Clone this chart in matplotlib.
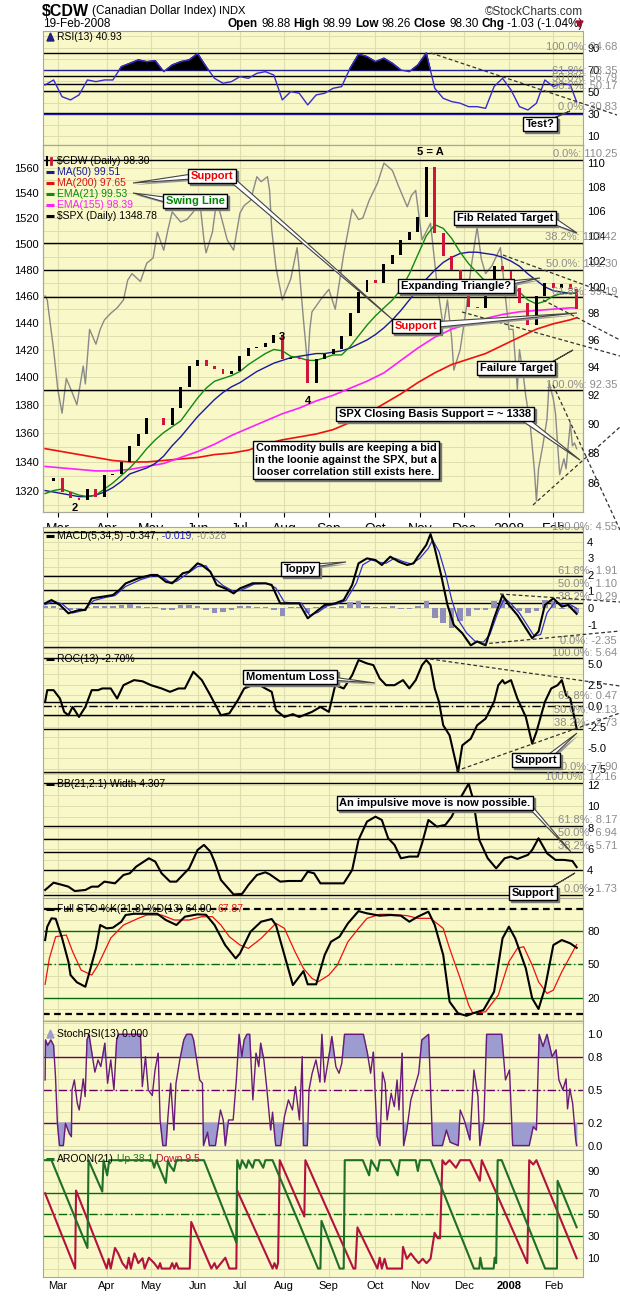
import numpy as np
import matplotlib
matplotlib.use('Agg')
import matplotlib.pyplot as plt
from matplotlib.patches import Polygon
from matplotlib.ticker import NullLocator
from matplotlib.transforms import blended_transform_factory

plt.rcParams['font.family'] = ['Liberation Sans', 'DejaVu Sans']

# ---------------- data (x = trading day, 0 = 20-Feb-2007, 251 = 19-Feb-2008) ----------------
month_idx = [6, 29, 50, 72, 92, 113, 134, 156, 177, 198, 219, 240]
month_lbl = ['Mar', 'Apr', 'May', 'Jun', 'Jul', 'Aug', 'Sep', 'Oct', 'Nov', 'Dec', '2008', 'Feb']

week_x = np.r_[np.arange(0, 249, 4), 251]
slow_x = np.r_[np.arange(0, 249, 8), 251]

cdw_close = np.array([86.1, 86.3, 85.4, 85.0, 84.9, 85.6, 85.1, 86.5, 86.6, 87.4, 88.5, 89.3, 90.4, 90.4,
                      89.9, 91.1, 92.6, 94.1, 94.5, 94.1, 93.9, 93.5, 93.7, 94.8, 95.4, 95.5, 95.8, 96.4,
                      94.6, 94.7, 94.6, 92.9, 94.6, 95.0, 95.3, 96.3, 98.0, 99.6, 100.5, 100.3, 101.8,
                      102.5, 103.7, 104.3, 105.5, 109.7, 104.2, 102.4, 101.3, 100.2, 98.5, 98.4, 99.3,
                      101.6, 101.2, 99.9, 98.8, 97.1, 99.3, 100.3, 99.9, 100.2, 99.8, 98.3])
ma50 = np.array([85.5, 85.4, 85.3, 85.2, 85.1, 85.1, 85.2, 85.4, 85.7, 86.1, 86.6, 86.8, 87.0, 87.3,
                 87.8, 88.5, 89.1, 89.8, 90.5, 91.1, 91.7, 92.2, 92.6, 92.9, 93.3, 93.7, 94.0, 94.3,
                 94.5, 94.7, 94.8, 94.9, 95.0, 95.0, 95.1, 95.2, 95.4, 95.7, 96.0, 96.4, 96.9, 97.5,
                 98.2, 99.0, 99.8, 100.6, 101.3, 101.9, 102.3, 102.6, 102.7, 102.7, 102.6, 102.5,
                 102.3, 102.0, 101.6, 101.0, 100.5, 100.0, 99.7, 99.6, 99.5, 99.51])
ema21 = np.array([85.3, 85.5, 85.6, 85.4, 85.2, 85.1, 85.2, 85.6, 86.0, 86.5, 87.0, 87.6, 88.3, 88.9,
                  89.4, 89.8, 90.2, 91.0, 91.8, 92.5, 93.0, 93.2, 93.4, 93.7, 94.2, 94.6, 95.0, 95.3,
                  95.2, 94.8, 94.7, 94.5, 94.5, 94.7, 94.9, 94.9, 95.5, 96.3, 97.1, 97.8, 98.4, 99.0,
                  99.8, 101.0, 102.5, 104.0, 104.9, 104.6, 103.8, 102.7, 101.8, 101.1, 100.4, 100.0,
                  100.1, 100.2, 99.6, 99.0, 98.7, 98.9, 99.3, 99.5, 99.5, 99.53])
ma200 = np.array([88.3, 88.1, 87.9, 87.7, 87.5, 87.4, 87.4, 87.5, 87.6, 87.7, 87.9, 88.0, 88.2, 88.6,
                  88.9, 89.1, 89.3, 89.6, 90.1, 90.7, 91.4, 92.1, 92.9, 93.6, 94.2, 94.6, 95.0, 95.6,
                  96.2, 96.8, 97.2, 97.5, 97.65])
ema155 = np.array([87.1, 87.0, 86.9, 86.8, 86.8, 86.9, 87.1, 87.3, 87.7, 88.1, 88.6, 89.2, 89.7, 90.2,
                   90.7, 91.1, 91.6, 92.0, 92.5, 93.0, 93.6, 94.5, 95.4, 96.2, 96.8, 97.2, 97.6, 97.9,
                   98.1, 98.2, 98.3, 98.4, 98.39])

spx_x = [0, 1, 4, 6, 8, 10, 13, 15, 18, 19, 21, 24, 26, 28, 31, 34, 37, 39, 41, 45, 48, 51, 53, 56, 58,
         60, 64, 67, 70, 73, 75, 76, 79, 81, 83, 86, 89, 92, 94, 97, 100, 102, 105, 106, 107, 109, 112,
         114, 116, 119, 120, 122, 124, 125, 126, 130, 134, 137, 141, 145, 148, 150, 153, 157, 160, 164,
         167, 171, 173, 175, 178, 182, 185, 188, 190, 192, 193, 196, 199, 201, 204, 206, 208, 211, 215,
         217, 219, 221, 223, 224, 226, 227, 229, 231, 232, 233, 235, 237, 238, 240, 241, 243, 245, 246,
         248, 249, 250, 251]
spx_v = [1460, 1457, 1420, 1391, 1374, 1399, 1388, 1380, 1408, 1395, 1435, 1424, 1435, 1442, 1447, 1451,
         1457, 1472, 1477, 1471, 1485, 1489, 1509, 1495, 1511, 1525, 1517, 1519, 1525, 1534, 1503, 1493,
         1509, 1534, 1522, 1503, 1495, 1524, 1530, 1534, 1553, 1549, 1553, 1542, 1511, 1482, 1457, 1465,
         1473, 1497, 1480, 1442, 1408, 1435, 1448, 1457, 1465, 1450, 1492, 1527, 1519, 1520, 1534, 1548,
         1564, 1558, 1545, 1529, 1538, 1542, 1503, 1516, 1470, 1437, 1457, 1428, 1405, 1420, 1452, 1480,
         1513, 1488, 1477, 1483, 1497, 1465, 1435, 1435, 1391, 1420, 1399, 1386, 1367, 1335, 1313, 1335,
         1351, 1370, 1396, 1384, 1374, 1331, 1342, 1335, 1367, 1351, 1353, 1349]

rsi13 = np.array([56.2, 60.7, 45.6, 42.7, 47.2, 60.7, 59.2, 60.7, 60.7, 72.7, 75.7, 78.8, 77.2, 78.1,
                  68.2, 74.2, 77.2, 78.8, 84.5, 72.7, 62.2, 57.7, 59.2, 63.7, 62.2, 66.7, 68.2, 65.2,
                  42.7, 50.2, 48.7, 38.2, 47.2, 48.7, 53.2, 54.7, 71.2, 84.0, 81.8, 77.2, 80.3, 75.7,
                  69.7, 68.2, 74.2, 85.0, 53.2, 44.1, 41.2, 39.7, 36.6, 36.6, 35.1, 54.7, 62.2, 51.7,
                  36.6, 33.6, 39.7, 60.7, 54.7, 57.7, 56.2, 40.93])

macd_x = [0, 3, 7, 11, 16, 19, 22, 27, 32, 35, 38, 44, 50, 53, 57, 60, 65, 68, 72, 74, 78, 81, 85, 89,
          92, 98, 104, 107, 111, 115, 120, 124, 128, 132, 137, 141, 145, 148, 152, 156, 159, 163, 167,
          171, 174, 176, 180, 182, 184, 187, 190, 193, 197, 201, 204, 208, 212, 216, 219, 223, 227, 230,
          233, 236, 240, 244, 247, 251]
macd_v = [0.28, 0.48, 0.18, -0.32, -0.12, -0.12, 0.58, 0.68, 0.78, 1.08, 1.48, 1.79, 1.99, 1.99, 1.58,
          1.49, 2.09, 2.19, 2.69, 2.59, 2.19, 1.39, 1.18, 0.88, 1.18, 1.49, 1.49, 1.39, 0.28, 0.28, 0.28,
          -0.62, -0.22, 0.18, 0.28, 0.48, 1.39, 2.69, 2.99, 2.89, 2.59, 3.09, 2.79, 2.59, 2.69, 3.09,
          3.80, 4.45, 3.60, 1.99, 0.18, -1.02, -1.52, -2.25, -2.02, -2.25, -0.62, 0.78, 0.18, -0.42,
          -1.22, -1.82, -1.42, 0.18, 0.58, 0.08, 0.18, -0.35]
sig_x = [0, 4, 8, 13, 18, 23, 28, 33, 38, 45, 51, 55, 59, 62, 67, 72, 76, 80, 84, 89, 93, 99, 105, 109,
         113, 117, 121, 125, 129, 133, 138, 142, 147, 150, 154, 158, 161, 165, 169, 173, 177, 181, 183,
         186, 189, 192, 195, 199, 203, 207, 210, 214, 217, 220, 224, 228, 231, 234, 237, 241, 245, 248, 251]
sig_v = [0.2, 0.4, 0.25, -0.3, -0.15, 0.45, 0.62, 0.75, 1.3, 1.7, 1.95, 1.9, 1.55, 1.6, 2.05, 2.5, 2.55,
         1.8, 1.35, 1.0, 1.1, 1.45, 1.48, 1.2, 0.35, 0.3, 0.3, -0.45, -0.25, 0.12, 0.25, 0.45, 1.5, 2.6,
         2.9, 2.75, 2.7, 3.0, 2.8, 2.65, 3.0, 3.6, 4.1, 3.4, 2.1, 0.5, -0.7, -1.5, -2.0, -2.05, -1.6,
         -0.2, 0.6, 0.25, -0.3, -1.1, -1.7, -1.6, -0.3, 0.4, 0.15, 0.2, -0.02]
macd_hist = [0.1, 0.15, -0.1, -0.1, -0.05, 0.05, 0.15, 0.1, 0.1, 0.2, 0.25, 0.15, 0.05, 0.05, -0.15,
             -0.1, 0.2, 0.2, 0.15, -0.1, -0.3, -0.25, -0.15, 0.1, 0.1, 0.05, 0.05, -0.1, -0.5, 0.05,
             0.05, -0.3, 0.05, 0.1, 0.05, 0.1, 0.35, 0.45, 0.1, 0.05, 0.05, 0.1, -0.05, -0.05, 0.15,
             0.4, -0.6, -0.9, -1.2, -0.8, -0.5, -0.1, -0.1, 0.4, 0.5, 0.1, -0.2, -0.3, -0.2, 0.5, 0.4,
             -0.05, 0.1, -0.33]

roc_x = [0, 1, 4, 7, 9, 11, 13, 16, 19, 22, 25, 27, 31, 34, 37, 42, 46, 50, 55, 59, 63, 66, 70, 74, 78,
         83, 87, 91, 94, 100, 104, 107, 109, 113, 117, 120, 126, 130, 134, 137, 141, 145, 148, 152, 155,
         158, 161, 165, 169, 172, 175, 178, 180, 182, 184, 186, 188, 191, 195, 197, 201, 204, 208, 212,
         214, 216, 217, 220, 223, 227, 230, 232, 236, 239, 242, 244, 246, 248, 251]
roc_v = [0.45, 1.85, 1.85, 0.86, -0.73, -1.13, -0.14, -1.33, -0.14, 1.85, 1.85, 2.05, 2.05, 0.86, 2.44,
         3.04, 2.9, 2.44, 2.05, 1.65, 2.05, 2.05, 4.03, 3.04, 1.25, -1.13, -0.9, 0.66, 2.05, 2.64, 2.05,
         1.65, -0.53, -1.33, -1.0, -1.33, -0.73, -0.14, -0.73, 2.44, 2.05, 3.63, 5.42, 5.02, 4.82, 3.24,
         2.44, 2.44, 3.04, 2.05, 3.04, 4.82, 5.42, 4.82, 2.05, 0.46, -2.32, -3.51, -7.9, -4.70, -3.91,
         -2.32, -1.53, 0.46, 2.44, 3.04, 2.64, 3.04, 0.86, -1.33, -4.50, -3.12, 0.46, 2.05, 2.44, 3.04,
         1.25, 0.86, -2.70]

bbw_x = [0, 4, 7, 11, 14, 19, 22, 25, 28, 33, 37, 40, 43, 49, 52, 55, 59, 62, 65, 68, 72, 75, 78, 80,
         83, 89, 93, 96, 100, 104, 106, 111, 115, 121, 124, 127, 130, 135, 141, 145, 148, 152, 156, 159,
         162, 165, 168, 172, 176, 178, 181, 185, 189, 192, 196, 200, 202, 205, 209, 213, 217, 220, 223,
         228, 230, 233, 237, 241, 245, 249, 251]
bbw_v = [2.17, 2.85, 2.70, 2.48, 2.07, 2.17, 2.48, 2.48, 2.95, 2.79, 3.57, 3.73, 4.35, 5.13, 4.82, 3.73,
         2.95, 2.95, 3.57, 4.19, 5.91, 6.38, 5.76, 4.82, 3.11, 1.75, 1.80, 2.64, 3.57, 3.82, 3.64, 2.95,
         3.01, 3.01, 3.88, 3.73, 2.79, 2.79, 2.79, 4.04, 6.85, 8.56, 9.02, 8.71, 7.0, 6.38, 5.13, 5.29,
         5.29, 6.53, 8.71, 8.09, 8.25, 9.02, 10.73, 12.1, 10.73, 6.85, 5.13, 4.19, 5.13, 5.29, 5.07, 5.45,
         5.91, 7.0, 5.60, 4.98, 4.98, 4.88, 4.31]

stok_x = [0, 1, 3, 5, 8, 11, 12, 15, 19, 21, 24, 26, 29, 32, 36, 38, 42, 48, 53, 57, 62, 66, 72, 76, 80,
          85, 90, 92, 97, 102, 107, 109, 113, 117, 122, 124, 128, 132, 135, 139, 143, 148, 152, 158, 163,
          168, 172, 176, 181, 184, 188, 191, 195, 199, 202, 207, 212, 216, 219, 222, 227, 230, 233, 236,
          240, 244, 248, 251]
stok_v = [71.9, 83.9, 91.4, 91.0, 73.7, 52.4, 40.4, 33.9, 29.9, 43.4, 64.4, 85.4, 82.4, 83.0, 88.4, 94.4,
          95.5, 95.5, 95.5, 89.9, 85.4, 92.9, 95.0, 94.6, 85.4, 67.4, 55.4, 59.9, 79.4, 88.4, 90.8, 85.4,
          58.4, 31.4, 44.0, 32.1, 32.1, 58.4, 70.4, 74.9, 86.9, 97.9, 95.9, 93.8, 94.4, 93.8, 88.4, 92.9,
          97.4, 85.4, 58.4, 16.4, 6.0, 3.8, 6.0, 9.0, 25.4, 73.4, 83.9, 73.4, 46.4, 19.5, 9.9, 28.4, 67.4,
          71.9, 68.9, 64.9]
stod_x = [0, 2, 5, 10, 13, 17, 22, 25, 31, 37, 44, 48, 55, 61, 68, 74, 79, 83, 87, 92, 96, 102, 109, 113,
          118, 122, 126, 129, 134, 138, 143, 148, 152, 158, 163, 171, 176, 182, 188, 191, 196, 200, 202,
          208, 214, 219, 223, 226, 230, 233, 237, 240, 244, 251]
stod_v = [32.1, 55.4, 74.9, 76.4, 61.4, 44.9, 40.4, 49.4, 73.7, 85.4, 91.4, 94.4, 94.4, 89.9, 89.9, 92.9,
          92.9, 85.4, 74.9, 67.4, 64.4, 73.4, 86.9, 82.4, 61.4, 46.4, 37.4, 34.4, 40.4, 49.4, 70.4, 82.4,
          91.4, 95.0, 95.0, 93.8, 91.4, 91.4, 82.4, 64.4, 37.4, 13.4, 6.0, 7.4, 22.4, 52.4, 64.4, 65.9,
          49.4, 34.4, 23.9, 26.9, 43.4, 67.87]

srsi_x = [0, 0.2, 1.2, 2.7, 4.0, 4.9, 5.8, 6.8, 8.6, 9.6, 11.4, 12.4, 12.7, 13.8, 15.2, 16.1, 18.0, 18.9,
          19.8, 20.7, 22.1, 23.5, 25.0, 26.3, 28.2, 29.5, 31.0, 32.5, 33.8, 34.7, 45.0, 45.9, 47.4, 48.7,
          50.6, 51.9, 53.4, 54.3, 55.6, 57.1, 58.0, 59.3, 60.8, 61.8, 63.6, 65.5, 66.8, 69.2, 70.1, 73.0,
          74.3, 74.8, 76.7, 77.6, 80.4, 82.8, 84.1, 85.1, 86.6, 88.8, 90.3, 91.6, 92.9, 94.0, 95.3, 96.6,
          98.1, 99.6, 100.9, 101.8, 103.3, 104.6, 106.5, 107.4, 108.9, 111.2, 113.0, 114.9, 116.8, 118.2,
          120.1, 121.4, 122.0, 123.8, 124.6, 126.1, 127.9, 129.8, 130.7, 132.0, 134.5, 135.4, 137.3,
          138.8, 140.1, 141.4, 150.3, 152.2, 153.7, 155.0, 156.8, 158.1, 159.3, 160.6, 161.5, 163.4,
          164.9, 166.2, 167.1, 168.6, 169.3, 170.8, 172.7, 174.6, 176.4, 177.9, 181.1, 183.0, 187.6,
          189.5, 191.3, 195.1, 196.0, 197.9, 200.6, 202.5, 204.4, 205.3, 207.2, 208.5, 215.6, 217.4,
          219.3, 220.8, 228.6, 230.5, 232.0, 233.3, 235.1, 237.0, 239.4, 241.3, 242.6, 244.5, 246.0,
          246.7, 247.8, 249.1, 250.6, 251]
srsi_v = [0.59, 0.95, 0.90, 0.95, 0.90, 0.62, 0.20, 0.0, 0.0, 0.20, 0.11, 0.08, 0.50, 0.59, 0.38, 0.32,
          0.60, 0.44, 0.95, 1.0, 0.83, 0.66, 0.77, 0.71, 0.92, 0.56, 0.77, 0.50, 0.95, 1.0, 1.0, 0.53,
          0.80, 0.50, 0.45, 0.68, 0.83, 0.23, 0.0, 0.0, 0.26, 0.56, 0.14, 0.56, 0.77, 0.95, 1.0, 1.0,
          0.95, 0.59, 0.56, 0.0, 0.12, 0.0, 0.0, 0.32, 0.23, 0.0, 0.23, 0.23, 0.59, 1.0, 0.80, 0.95, 1.0,
          1.0, 0.41, 0.83, 0.71, 0.92, 0.77, 0.53, 0.14, 0.30, 0.0, 0.0, 0.26, 0.41, 0.32, 0.53, 0.23,
          0.80, 0.0, 0.0, 0.50, 0.65, 0.77, 0.57, 1.0, 0.57, 0.86, 0.98, 0.71, 0.65, 0.74, 1.0, 1.0, 0.83,
          0.65, 0.84, 0.08, 0.0, 0.66, 0.56, 0.23, 0.47, 0.35, 0.59, 0.32, 0.83, 0.0, 0.14, 0.41, 0.53,
          0.65, 0.95, 1.0, 0.0, 0.0, 0.14, 0.03, 0.0, 0.32, 0.23, 0.05, 0.68, 0.44, 0.0, 0.23, 1.0, 1.0,
          0.59, 0.68, 0.0, 0.0, 0.17, 0.14, 1.0, 0.89, 1.0, 0.80, 0.86, 0.59, 0.50, 0.60, 0.33, 0.51,
          0.38, 0.05, 0.0]

aup_x = [0, 3, 20, 20.5, 27, 27.6, 29.3, 30.3, 50.5, 51.5, 52.5, 57, 58, 59, 60.8, 62, 75, 90.3, 90.7,
         92, 93, 95, 96, 98, 99, 101, 103, 104, 107.4, 128.9, 130, 130.5, 139.1, 141, 141.5, 150, 153,
         154, 157, 158, 163, 166.5, 167.5, 175, 176, 177, 182, 202.5, 205, 205.5, 206.5, 211.8, 212.3,
         213, 213.7, 215.6, 236.1, 241.7, 242, 251]
aup_v = [100, 100, 19, 100, 71, 100, 86, 100, 100, 93, 100, 79, 100, 95, 90, 100, 100, 24, 100, 92, 100,
         93, 100, 93, 100, 100, 93, 100, 100, 0, 0, 44, 0, 0, 100, 100, 86, 100, 90, 100, 100, 86, 100,
         100, 90, 100, 100, 0, 0, 10, 0, 0, 10, 5, 100, 100, 0, 0, 81, 38.1]
adn_x = [0, 14.2, 14.6, 29.1, 30, 31, 33, 34.5, 36.5, 38.5, 39.5, 40.5, 42.2, 44, 46, 47, 49, 51.5, 53.4,
         54.3, 55, 59, 60, 61, 62, 63, 68.3, 69, 78.5, 80, 81, 85.1, 87, 90.3, 90.7, 107.4, 108.3, 109.3,
         110, 110.8, 122.4, 122.9, 145.6, 146.5, 147.5, 156.9, 158, 159, 160.3, 161.5, 168.5, 169, 170.8,
         172.7, 174.6, 176.4, 178.3, 180.1, 182, 183.9, 185.4, 186.5, 187.6, 189, 191, 194, 196, 200.6,
         205.3, 206.2, 227.7, 228.6, 230.5, 232, 251]
adn_v = [69.4, 0, 72, 0, 9, 0, 19, 14, 5, 0, 10, 0, 14, 5, 9.5, 0, 10, 5, 0, 5, 0, 0, 5, 0, 5, 0, 0, 43,
         0, 5, 0, 10, 0, 0, 72, 0, 5, 0, 5, 100, 48, 100, 0, 0, 38, 0, 10, 0, 9, 0, 0, 20, 9, 14, 9, 5,
         9, 5, 9, 33, 28, 28, 100, 96, 100, 93, 100, 100, 81, 100, 5, 100, 96, 100, 9.5]

# ---------------- layout ----------------
W, H = 620, 1297
BG = '#f8f8c8'
GRID = '#dedeb0'
FIB = '#8c8c8c'

fig = plt.figure(figsize=(W / 100, H / 100), dpi=100)
fig.patch.set_facecolor('white')


def panel(top, bottom, ylim, ticks, labels, minor, log=False):
    ax = fig.add_axes([43 / W, 1 - bottom / H, 540 / W, (bottom - top) / H])
    ax.set_facecolor(BG)
    if log:
        ax.set_yscale('log')
    ax.set_xlim(-1, 254)
    ax.set_ylim(*ylim)
    for sp in ax.spines.values():
        sp.set_color('#a8a898')
        sp.set_linewidth(0.8)
    ax.yaxis.tick_right()
    ax.set_yticks(ticks)
    ax.set_yticklabels(labels)
    ax.yaxis.set_minor_locator(NullLocator())
    ax.tick_params(axis='y', length=0, pad=3, labelsize=8)
    ax.set_xticks([])
    for m in month_idx:
        ax.axvline(m, color=GRID, lw=0.8, zorder=0)
    for g in minor:
        ax.axhline(g, color=GRID, lw=0.7, zorder=0)
    return ax


def fibs(ax, levels, texts):
    tr = blended_transform_factory(fig.transFigure, ax.transData)
    for lv, tx in zip(levels, texts):
        ax.axhline(lv, color='black', lw=1, zorder=2)
        ax.annotate(tx, xy=(617 / W, lv), xycoords=tr, xytext=(0, 0.5), textcoords='offset points',
                    ha='right', va='bottom', fontsize=8, color=FIB, annotation_clip=False, zorder=6)


def month_labels(ax):
    ax.set_xticks(month_idx)
    ax.set_xticklabels(month_lbl)
    ax.tick_params(axis='x', length=0, pad=3, labelsize=8)
    for t in ax.get_xticklabels():
        if t.get_text() == '2008':
            t.set_fontweight('bold')


# overlay in pixel coordinates for header, legends and callouts
ov = fig.add_axes([0, 0, 1, 1])
ov.set_xlim(0, W)
ov.set_ylim(H, 0)
ov.axis('off')
ov.set_zorder(20)
renderer = fig.canvas.get_renderer()


def rich(x, y, parts, size=7.5, gap=3):
    for part in parts:
        s, c, w = part[:3]
        fs = part[3] if len(part) > 3 else size
        t = ov.text(x, y, s, color=c, fontsize=fs, fontweight=w, ha='left', va='center', zorder=30)
        x += t.get_window_extent(renderer=renderer).width + gap


def dash_icon(x, y, c):
    ov.plot([x, x + 8], [y, y], color=c, lw=2.2, solid_capstyle='butt', zorder=30)


def callout(cx, cy, text, tails=(), color='black', size=8):
    kw = dict(ha='center', va='center', fontsize=size, fontweight='bold', multialignment='center')
    ov.text(cx + 2, cy + 2, text, color='#7a7a7a', zorder=40,
            bbox=dict(boxstyle='square,pad=0.22', fc='#7a7a7a', ec='#7a7a7a', lw=1), **kw)
    for a, b, tip in tails:
        ov.add_patch(Polygon([(a[0] + 2, a[1] + 2), (b[0] + 2, b[1] + 2), (tip[0] + 2, tip[1] + 2)],
                             closed=True, fc='#9a9a9a', ec='none', zorder=41))
        ov.add_patch(Polygon([a, b, tip], closed=True, fc='white', ec='#444444', lw=0.8, zorder=42))
    ov.text(cx, cy, text, color=color, zorder=43,
            bbox=dict(boxstyle='square,pad=0.22', fc='white', ec='black', lw=1), **kw)


def dashed(p, q):
    ov.plot([p[0], q[0]], [p[1], q[1]], color='#333333', lw=0.9, dashes=(3, 2), zorder=25)


# ---------------- header ----------------
rich(42, 11, [('$CDW', 'black', 'bold', 11.5), ('(Canadian Dollar Index)', 'black', 'normal', 8.5),
              ('INDX', 'black', 'normal', 8)])
ov.text(583, 12, '\u00a9StockCharts.com', fontsize=8.5, va='center', ha='right', color='#333333')
ov.text(43, 24, '19-Feb-2008', fontsize=8.5, va='center')
rich(228, 24, [('Open', 'black', 'bold'), ('98.88', 'black', 'normal'), ('High', 'black', 'bold'),
               ('98.99', 'black', 'normal'), ('Low', 'black', 'bold'), ('98.26', 'black', 'normal'),
               ('Close', 'black', 'bold'), ('98.30', 'black', 'normal'), ('Chg', 'black', 'bold'),
               ('-1.03 (-1.04%)', 'black', 'normal')], size=8.5)
ov.fill([576, 583, 579.5], [21, 21, 27], color='#a01030', zorder=30)

# ---------------- RSI ----------------
ax = panel(31, 145, (2.0, 104.9), [90, 70, 50, 30, 10], ['90', '70', '50', '30', '10'],
           range(0, 101, 10))
fibs(ax, [85.1, 64.0, 57.1, 50.5, 30.9],
     ['100.0%: 94.68', '61.8%: 73.35', '50.0%: 56.79', '38.2%: 50.17', '0.0%: 30.83'])
ax.axhline(70, color='#2020a0', lw=1, zorder=2)
ax.axhline(30, color='#2020a0', lw=1, zorder=2)
ax.fill_between(week_x, rsi13, 70, where=rsi13 > 70, interpolate=True, color='black', zorder=3)
ax.plot(week_x, rsi13, color='#3a2ad0', lw=1, zorder=4)
ov.fill([47, 54, 50.5], [41, 41, 33], color='#202080', zorder=30)
rich(57, 37, [('RSI(13) 40.93', 'black', 'normal')])
dashed((431, 53), (617, 115))
callout(540, 124, 'Test?', [((545, 122), (552, 119), (570, 111))])

# ---------------- price panel ----------------
ax_spx = panel(145, 512, (1305.5, 1578.7), [], [], [], log=True)
ax_spx.yaxis.tick_left()
ax_spx.set_yticks(range(1320, 1561, 20))
ax_spx.set_yticklabels([str(v) for v in range(1320, 1561, 20)])
ax_spx.yaxis.set_minor_locator(NullLocator())
ax_spx.tick_params(axis='y', length=0, pad=3, labelsize=8)
for g in range(1310, 1580, 10):
    ax_spx.axhline(g, color=GRID, lw=0.7, zorder=0)
ax_spx.plot(spx_x, spx_v, color='#8a8a8a', lw=1, zorder=3)

ax_cdw = ax_spx.twinx()
ax_cdw.set_yscale('log')
ax_cdw.set_ylim(84.1, 111.53)
ax_cdw.set_xlim(-1, 254)
ax_cdw.set_yticks(range(86, 111, 2))
ax_cdw.set_yticklabels([str(v) for v in range(86, 111, 2)])
ax_cdw.yaxis.set_minor_locator(NullLocator())
ax_cdw.tick_params(axis='y', length=0, pad=3, labelsize=8)
for sp in ax_cdw.spines.values():
    sp.set_color('#a8a898')
    sp.set_linewidth(0.8)
fibs(ax_cdw, [110.25, 103.42, 101.30, 99.19, 92.35],
     ['0.0%: 110.25', '38.2%: 103.42', '50.0%: 101.30', '61.8%: 99.19', '100.0%: 92.35'])
ax_cdw.plot(slow_x, ma200, color='#f01010', lw=1.2, zorder=4)
ax_cdw.plot(slow_x, ema155, color='#ff20ff', lw=1.2, zorder=4)
ax_cdw.plot(week_x, ma50, color='#1a1a9a', lw=1, zorder=4)
ax_cdw.plot(week_x, ema21, color='#108a10', lw=1, zorder=4)
opens = np.r_[cdw_close[0], cdw_close[:-1]]
body_col = np.where(cdw_close >= opens, 'black', '#d0143c')
ax_cdw.bar(week_x, cdw_close - opens, bottom=opens, width=1.4, color=body_col, zorder=5)
month_labels(ax_cdw)

legend = [('$CDW (Daily) 98.30', 'black', None), ('MA(50) 99.51', '#1a1a9a', '#1a1a9a'),
          ('MA(200) 97.65', '#e01010', '#e01010'), ('EMA(21) 99.53', '#108a10', '#108a10'),
          ('EMA(155) 98.39', '#ff20ff', '#ff20ff'), ('$SPX (Daily) 1348.78', 'black', 'black')]
for k, (txt, col, ic) in enumerate(legend):
    yy = 161 + 11 * k
    if ic is None:
        ov.plot([47, 47], [157, 165], color='black', lw=1.5, zorder=30)
        ov.plot([51, 51], [158, 164], color='#d0143c', lw=2, zorder=30)
    else:
        dash_icon(46, yy, ic)
    rich(57, yy, [(txt, col, 'normal')])

ov.text(430, 152, '5 = A', fontsize=8, fontweight='bold', ha='center', va='center', zorder=30)
ov.text(282, 337, '3', fontsize=8, fontweight='bold', ha='center', va='center', zorder=30)
ov.text(308, 401, '4', fontsize=8, fontweight='bold', ha='center', va='center', zorder=30)
ov.text(75, 508, '2', fontsize=8, fontweight='bold', ha='center', va='center', zorder=30)

dashed((503, 255), (620, 298))
dashed((462, 312), (620, 356))
dashed((543, 300), (620, 340))
dashed((553, 385), (620, 530))
dashed((533, 505), (620, 427))

callout(212, 176, 'Support', [((192, 174), (192, 179), (133, 183)), ((226, 178), (234, 178), (393, 320))],
        color='#ee0000')
callout(195, 201, 'Swing Line', [((172, 198), (172, 204), (133, 193))], color='#008800')
callout(505, 218, 'Fib Related Target', [((545, 221), (552, 216), (577, 233))])
callout(456, 286, 'Expanding Triangle?', [((500, 282), (508, 285), (540, 278))])
callout(416, 326, 'Support', [((430, 322), (430, 328), (577, 313))], color='#ee0000')
callout(516, 368, 'Failure Target', [((545, 366), (552, 362), (573, 350))])
callout(435, 414, 'SPX Closing Basis Support = ~ 1338', [((515, 416), (525, 416), (580, 460))])
callout(346, 460, 'Commodity bulls are keeping a bid\nin the loonie against the SPX, but a\n'
        'looser correlation still exists here.', size=7.8)

# ---------------- MACD ----------------
ax = panel(527, 648, (-2.41, 4.88), [4, 3, 2, 1, 0, -1], ['4', '3', '2', '1', '0', '-1'],
           np.arange(-2, 4.9, 0.5))
fibs(ax, [4.55, 1.91, 1.10, 0.29, -2.35],
     ['100.0%: 4.55', '61.8%: 1.91', '50.0%: 1.10', '38.2%: 0.29', '0.0%: -2.35'])
ax.bar(week_x, macd_hist, width=2.6, color='#8e8eb8', zorder=3)
ax.plot(sig_x, sig_v, color='#3030d0', lw=0.9, zorder=4)
ax.plot(macd_x, macd_v, color='black', lw=1.5, zorder=5)
dash_icon(46, 536, 'black')
rich(57, 536, [('MACD(5,34,5) -0.347', 'black', 'normal'), (', -0.019', '#2020c0', 'normal'),
               (', -0.328', '#909090', 'normal')], gap=0)
dashed((500, 594), (620, 602))
dashed((483, 644), (620, 631))
callout(300, 569, 'Toppy', [((308, 568), (313, 564), (346, 562))])

# ---------------- ROC ----------------
ax = panel(648, 773, (-7.98, 6.85), [5, 2.5, 0, -2.5, -5, -7.5],
           ['5.0', '2.5', '0.0', '-2.5', '-5.0', '-7.5'], np.arange(-7.5, 6.3, 1.25))
fibs(ax, [5.64, 0.47, -1.13, -2.73, -7.90],
     ['100.0%: 5.64', '61.8%: 0.47', '50.0%: -1.13', '38.2%: -2.73', '0.0%: -7.90'])
ax.axhline(0, color='black', lw=1, dashes=(6, 2, 1, 2), zorder=2)
ax.plot(roc_x, roc_v, color='black', lw=1.5, zorder=5)
dash_icon(46, 659, 'black')
rich(57, 659, [('ROC(13) -2.70%', 'black', 'normal')])
dashed((430, 659), (620, 686))
dashed((456, 771), (620, 713))
callout(290, 677, 'Momentum Loss', [((325, 676), (330, 680), (375, 683))])
callout(536, 760, 'Support', [((545, 757), (552, 757), (577, 733))])

# ---------------- BB width ----------------
ax = panel(773, 898, (1.42, 13.1), [12, 10, 8, 6, 4, 2], ['12', '10', '8', '6', '4', '2'],
           range(2, 14))
fibs(ax, [12.16, 8.17, 6.94, 5.71, 1.73],
     ['100.0%: 12.16', '61.8%: 8.17', '50.0%: 6.94', '38.2%: 5.71', '0.0%: 1.73'])
ax.axhline(4, color='black', lw=1, zorder=2)
ax.plot(bbw_x, bbw_v, color='black', lw=1.5, zorder=5)
dash_icon(46, 784, 'black')
rich(57, 784, [('BB(21,2.1) Width 4.307', 'black', 'normal')])
callout(435, 803, 'An impulsive move is now possible.', [((525, 804), (532, 806), (571, 852))])
callout(533, 893, 'Support', [((545, 891), (550, 888), (575, 873))])

# ---------------- Full STO ----------------
ax = panel(898, 1021, (-0.9, 109.7), [80, 50, 20], ['80', '50', '20'], range(0, 110, 10))
ax.axhline(100, color='black', lw=1.6, dashes=(3, 2), zorder=2)
ax.axhline(5, color='black', lw=1.6, dashes=(3, 2), zorder=2)
ax.axhline(80, color='#0a6a0a', lw=1, zorder=2)
ax.axhline(20, color='#0a6a0a', lw=1, zorder=2)
ax.axhline(50, color='#0a6a0a', lw=1, dashes=(6, 2, 1, 2), zorder=2)
ax.plot(stod_x, stod_v, color='#ee1111', lw=0.9, zorder=4)
ax.plot(stok_x, stok_v, color='black', lw=1.5, zorder=5)
dash_icon(46, 909, 'black')
rich(57, 909, [('Full STO %K(21,8) %D(13) 64.90,', 'black', 'normal'), ('67.87', '#ee1111', 'normal')])

# ---------------- StochRSI ----------------
srsi = np.array(srsi_v)
ax = panel(1021, 1150, (-0.04, 1.12), [1.0, 0.8, 0.5, 0.2, 0.0], ['1.0', '0.8', '0.5', '0.2', '0.0'],
           np.arange(0, 1.11, 0.1))
ax.fill_between(srsi_x, srsi, 0.8, where=srsi > 0.8, interpolate=True, color='#9c9cd0', zorder=3)
ax.fill_between(srsi_x, srsi, 0.2, where=srsi < 0.2, interpolate=True, color='#9c9cd0', zorder=3)
ax.axhline(0.8, color='#660066', lw=1, zorder=2)
ax.axhline(0.2, color='#660066', lw=1, zorder=2)
ax.axhline(0.5, color='#660066', lw=1, dashes=(6, 2, 1, 2), zorder=2)
ax.plot(srsi_x, srsi, color='#6a1a7a', lw=1, zorder=5)
ov.fill([47, 54, 50.5], [1038, 1038, 1030], color='#9c9cd0', zorder=30)
rich(57, 1034, [('StochRSI(13) 0.000', 'black', 'normal')])

# ---------------- AROON ----------------
ax = panel(1150, 1277, (-7.8, 109.4), [90, 70, 50, 30, 10], ['90', '70', '50', '30', '10'],
           range(0, 110, 10))
ax.axhline(70, color='#0a6a0a', lw=1, zorder=2)
ax.axhline(30, color='#0a6a0a', lw=1, zorder=2)
ax.axhline(50, color='#0a6a0a', lw=1, dashes=(6, 2, 1, 2), zorder=2)
ax.plot(adn_x, adn_v, color='#b3123e', lw=1.5, zorder=4)
ax.plot(aup_x, aup_v, color='#1f6f2a', lw=1.5, zorder=5)
month_labels(ax)
dash_icon(46, 1159, '#1f6f2a')
rich(57, 1159, [('AROON(21)', 'black', 'normal'), ('Up 38.1', '#1f7a1f', 'normal'),
                ('Down 9.5', '#c0103a', 'normal')])

fig.savefig('out.png', dpi=100)
